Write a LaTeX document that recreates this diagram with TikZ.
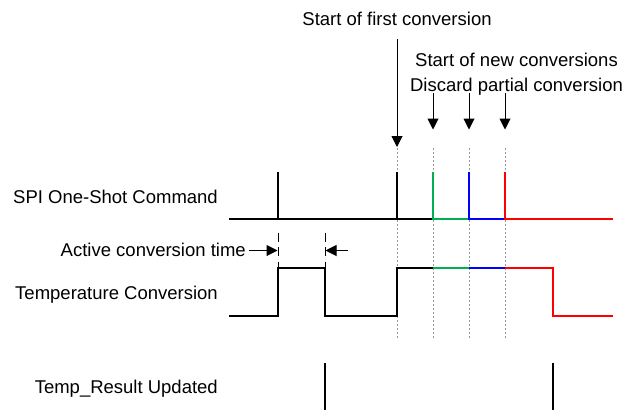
\documentclass[tikz,border=0pt]{standalone}
\usepackage{fontspec}
\setmainfont{Liberation Sans}
\usetikzlibrary{arrows.meta}
\definecolor{sgreen}{RGB}{0,176,80}
\definecolor{sblue}{RGB}{0,0,255}
\definecolor{sred}{RGB}{255,0,0}
\definecolor{guidegray}{RGB}{150,150,150}
\begin{document}
\begin{tikzpicture}[x=1pt,y=-1pt,
  lbl/.style={font=\fontsize{18.5}{25}\selectfont, inner sep=0pt},
  sig/.style={line width=2.2pt, line cap=butt, line join=miter},
  arr/.style={line width=1pt, -{Triangle[length=11pt,width=11pt]}},
  guide/.style={guidegray, line width=0.8pt, dash pattern=on 2pt off 2pt},
  tickdash/.style={line width=1pt, dash pattern=on 9pt off 5.5pt}]
\useasboundingbox (0,0) rectangle (623,410);
% labels
\node[lbl, anchor=base east] (lspi) at (218,203) {SPI One-Shot Command};
\node[lbl, anchor=base east] (lact) at (246,256.5) {Active conversion time};
\node[lbl, anchor=base east] (ltmp) at (218,299.5) {Temperature Conversion};
\node[lbl, anchor=base east] (lres) at (218,393) {Temp\_Result Updated};
\node[lbl, anchor=base] (lfirst) at (397,25) {Start of first conversion};
\node[lbl, anchor=base] (lnew1) at (516.5,66.5) {Start of new conversions};
\node[lbl, anchor=base] (lnew2) at (516.5,91.5) {Discard partial conversion};
% guide coordinates
\foreach \n/\x in {a/397,b/433,c/469,d/505}{
  \coordinate (g\n top) at (\x,148);
  \coordinate (g\n bot) at (\x,340);
  \draw[guide] (g\n top) -- (g\n bot);
}
% arrows from labels
\coordinate (fa1) at (397,39);  \coordinate (fa2) at (397,147);
\draw[arr] (fa1) -- (fa2);
\foreach \n/\x in {b/433,c/469,d/505}{
  \coordinate (na\n1) at (\x,93);
  \coordinate (na\n2) at (\x,129.5);
  \draw[arr] (na\n1) -- (na\n2);
}
% SPI One-Shot Command
\draw[sig] (229,219) -- (433,219);
\draw[sig] (278,219) -- (278,172);
\draw[sig] (397,219) -- (397,172);
\draw[sig, sgreen] (433,172) -- (433,219) -- (469,219);
\draw[sig, sblue] (469,172) -- (469,219) -- (505,219);
\draw[sig, sred] (505,172) -- (505,219) -- (613,219);
% Temperature Conversion
\draw[sig] (229,316) -- (278,316) -- (278,268) -- (325,268) -- (325,316) -- (397,316) -- (397,268) -- (433,268);
\draw[sig, sgreen] (433,268) -- (469,268);
\draw[sig, sblue] (469,268) -- (505,268);
\draw[sig, sred] (505,268) -- (553,268) -- (553,316) -- (613,316);
% Temp_Result Updated
\draw[sig] (325,363) -- (325,410);
\draw[sig] (553,363) -- (553,410);
% active conversion time markers
\coordinate (t1a) at (278,232.5); \coordinate (t1b) at (278,268);
\coordinate (t2a) at (325,232.5); \coordinate (t2b) at (325,268);
\draw[tickdash] (t1a) -- (t1b);
\draw[tickdash] (t2a) -- (t2b);
\coordinate (aa1) at (248.5,250.5); \coordinate (aa2) at (277.5,250.5);
\coordinate (ab1) at (348,250.5); \coordinate (ab2) at (325.5,250.5);
\draw[arr] (aa1) -- (aa2);
\draw[arr] (ab1) -- (ab2);
\end{tikzpicture}
\end{document}
